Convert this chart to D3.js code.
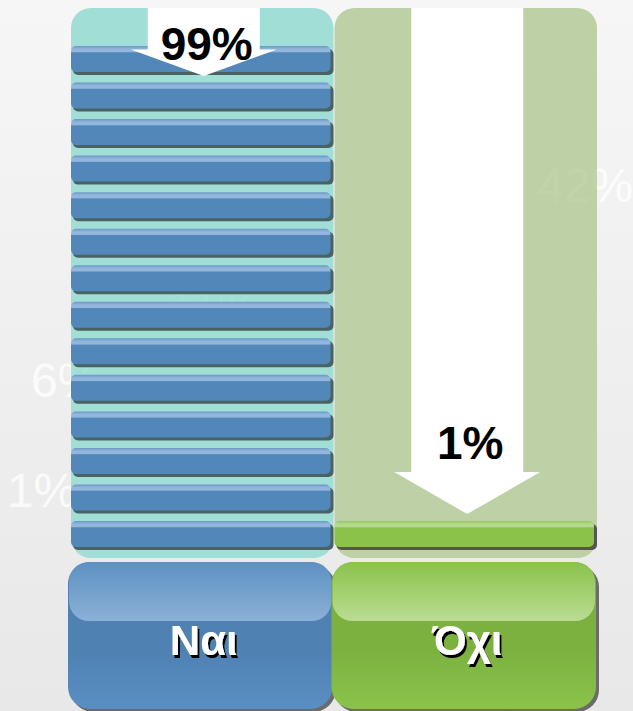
<!DOCTYPE html>
<html>
<head>
<meta charset="utf-8">
<script src="https://cdn.jsdelivr.net/npm/d3@7"></script>
<style>
  html, body { margin: 0; padding: 0; overflow: hidden; background: #efefef; }
  svg { display: block; }
</style>
</head>
<body>
<svg id="chart" width="633" height="711"></svg>
<script>
// answers and their share of the vote
const categories = ['Ναι', 'Όχι'];
const values = [99, 1];
const valueLabels = ['99%', '1%'];
// faint leftover labels that show through behind the columns
const ghostLabels = ['42%', '11%', '6%', '1%'];
const maxBars = 14;

const W = 633, H = 711;
const ghostPos = [[537, 202], [168, 323], [31, 397], [7, 507]];
const palette = {
  column: ['#a1ded6', '#bed1a6'],
  bar: ['#5287b9', '#8bc34a'],
  barHi: ['#93b7dc', '#b5da8e'],
  barTop: ['#6a97c7', '#93c85a'],
  barShadow: ['#4a6262', '#555555'],
  box: ['#4f81b3', '#7cb140'],
  boxBottom: ['#5a8fc3', '#8bc34a'],
  bandTop: ['#5d91c2', '#8ac24c'],
  bandBottom: ['#8bb1d6', '#badc94']
};

const svg = d3.select('#chart');
const defs = svg.append('defs');

function vGrad(id, stops) {
  const g = defs.append('linearGradient').attr('id', id)
      .attr('x1', 0).attr('y1', 0).attr('x2', 0).attr('y2', 1);
  stops.forEach(s => g.append('stop').attr('offset', s[0]).attr('stop-color', s[1]));
}

vGrad('bg', [[0, '#f6f6f6'], [1, '#e8e8e8']]);
categories.forEach((c, i) => {
  vGrad('bar' + i, [[0, palette.barTop[i]], [0.12, palette.barHi[i]], [0.22, palette.barHi[i]],
                    [0.26, palette.bar[i]], [1, palette.bar[i]]]);
  vGrad('box' + i, [[0, palette.box[i]], [0.6, palette.box[i]], [1, palette.boxBottom[i]]]);
  vGrad('band' + i, [[0, palette.bandTop[i]], [1, palette.bandBottom[i]]]);
});

// black drop shadow for the white category names
defs.append('filter').attr('id', 'txtShadow')
    .attr('x', '-20%').attr('y', '-20%').attr('width', '140%').attr('height', '140%')
  .append('feDropShadow')
    .attr('dx', 2).attr('dy', 3).attr('stdDeviation', 0.4)
    .attr('flood-color', '#000000').attr('flood-opacity', 1);

svg.append('rect').attr('width', W).attr('height', H).attr('fill', 'url(#bg)');

const x = d3.scaleBand().domain(categories).range([70, 597]).paddingInner(0);
const bw = x.bandwidth();
const yBar = d3.scaleLinear().domain([0, maxBars - 1]).range([521, 46]);
const barH = 26;
const colTop = 8, colBottom = 558;

const font = "'Liberation Sans', Arial, sans-serif";

function drawGhosts(opacity) {
  svg.append('g').selectAll('text').data(ghostLabels).join('text')
      .attr('x', (d, i) => ghostPos[i][0])
      .attr('y', (d, i) => ghostPos[i][1])
      .attr('font-family', font)
      .attr('font-size', 48)
      .attr('fill', '#ffffff')
      .attr('fill-opacity', opacity)
      .text(d => d);
}

drawGhosts(0.8);

// columns
svg.append('g').selectAll('rect').data(categories).join('rect')
    .attr('x', d => x(d) + 1)
    .attr('y', colTop)
    .attr('width', bw - 1)
    .attr('height', colBottom - colTop)
    .attr('rx', 20)
    .attr('fill', (d, i) => palette.column[i]);

drawGhosts(0.08);

// stacked bars
categories.forEach((c, i) => {
  const n = Math.max(1, Math.round(values[i] / 100 * maxBars));
  const g = svg.append('g');
  const idx = d3.range(n);
  g.selectAll('rect.shadow').data(idx).join('rect')
      .attr('class', 'shadow')
      .attr('x', x(c) + 3)
      .attr('y', d => yBar(d) + 3)
      .attr('width', bw - 3)
      .attr('height', barH)
      .attr('rx', 5)
      .attr('fill', palette.barShadow[i]);
  g.selectAll('rect.bar').data(idx).join('rect')
      .attr('class', 'bar')
      .attr('x', x(c) + 1)
      .attr('y', d => yBar(d))
      .attr('width', bw - 4)
      .attr('height', barH)
      .attr('rx', 5)
      .attr('fill', 'url(#bar' + i + ')');

  // arrow pointing to the top of the stack
  const cx = x(c) + bw / 2 + 2;
  const tipY = Math.max(yBar(n - 1) - 7, 76);
  const headLen = Math.min(42, (tipY - colTop) * 0.39);
  const shaftEnd = tipY - headLen;
  const sw = 56, hw = 73;
  svg.append('path')
      .attr('d', d3.line()([
        [cx - sw, colTop], [cx + sw, colTop], [cx + sw, shaftEnd], [cx + hw, shaftEnd],
        [cx, tipY], [cx - hw, shaftEnd], [cx - sw, shaftEnd]
      ]) + 'Z')
      .attr('fill', '#ffffff');
  svg.append('text')
      .attr('x', cx + 3)
      .attr('y', Math.max(tipY - 55, 60))
      .attr('text-anchor', 'middle')
      .attr('font-family', font)
      .attr('font-weight', 'bold')
      .attr('font-size', 46)
      .attr('fill', '#000000')
      .text(valueLabels[i]);
});

// category boxes
const boxTop = 562, boxH = 147;
categories.forEach((c, i) => {
  const g = svg.append('g');
  const bx = x(c) - 2, bwid = bw + 1;
  g.append('rect')
      .attr('x', bx + 3).attr('y', boxTop + 3)
      .attr('width', bwid).attr('height', boxH)
      .attr('rx', 22).attr('fill', '#6b6b6b');
  g.append('rect')
      .attr('x', bx).attr('y', boxTop)
      .attr('width', bwid).attr('height', boxH)
      .attr('rx', 22).attr('fill', 'url(#box' + i + ')');
  g.append('rect')
      .attr('x', bx + 1).attr('y', boxTop)
      .attr('width', bwid - 2).attr('height', 59)
      .attr('rx', 20).attr('fill', 'url(#band' + i + ')');
  g.append('text')
      .attr('x', x(c) + bw / 2 + 2).attr('y', 655)
      .attr('text-anchor', 'middle')
      .attr('font-family', font).attr('font-weight', 'bold').attr('font-size', 42)
      .attr('fill', '#ffffff')
      .attr('filter', 'url(#txtShadow)')
      .text(c);
});
</script>
</body>
</html>
